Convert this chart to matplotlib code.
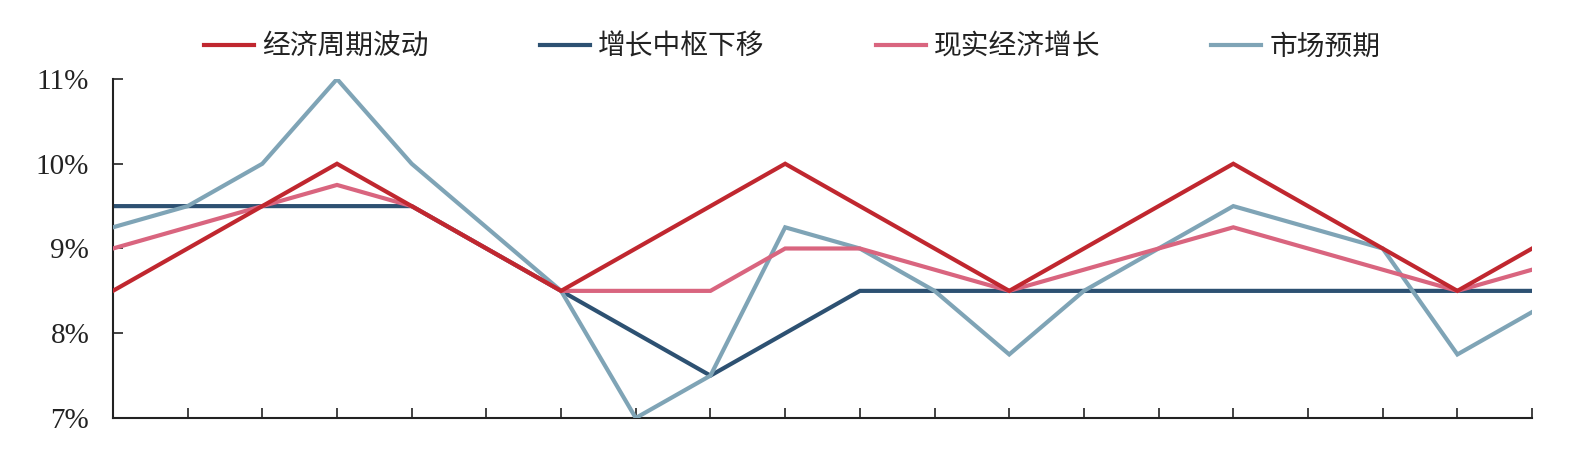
import matplotlib.pyplot as plt
from matplotlib.ticker import FuncFormatter

plt.rcParams["font.family"] = ["Noto Sans CJK SC", "DejaVu Sans"]

# data (percent), 20 evenly spaced periods
periods = list(range(20))
cycle = [8.5, 9.0, 9.5, 10.0, 9.5, 9.0, 8.5, 9.0, 9.5, 10.0,
         9.5, 9.0, 8.5, 9.0, 9.5, 10.0, 9.5, 9.0, 8.5, 9.0]
trend = [9.5, 9.5, 9.5, 9.5, 9.5, 9.0, 8.5, 8.0, 7.5, 8.0,
         8.5, 8.5, 8.5, 8.5, 8.5, 8.5, 8.5, 8.5, 8.5, 8.5]
actual = [9.0, 9.25, 9.5, 9.75, 9.5, 9.0, 8.5, 8.5, 8.5, 9.0,
          9.0, 8.75, 8.5, 8.75, 9.0, 9.25, 9.0, 8.75, 8.5, 8.75]
expect = [9.25, 9.5, 10.0, 11.0, 10.0, 9.25, 8.5, 7.0, 7.5, 9.25,
          9.0, 8.5, 7.75, 8.5, 9.0, 9.5, 9.25, 9.0, 7.75, 8.25]

labels = ["经济周期波动", "增长中枢下移", "现实经济增长", "市场预期"]
colors = ["#C0272F", "#2D5172", "#D9657F", "#7FA4B6"]
yticks = [7, 8, 9, 10, 11]

fig = plt.figure(figsize=(15.86, 4.54), dpi=100)
ax = fig.add_axes([0.0712, 0.0793, 0.8948, 0.7467])

# draw order: trend underneath, then the others
order = [1, 3, 2, 0]
series = [cycle, trend, actual, expect]
handles = {}
for i in order:
    (ln,) = ax.plot(periods, series[i], color=colors[i], lw=3.0,
                    solid_joinstyle="miter", label=labels[i], zorder=2 + order.index(i))
    handles[i] = ln

ax.set_xlim(0, 19)
ax.set_ylim(7, 11)
ax.set_xticks(periods)
ax.set_xticklabels([])
ax.set_yticks(yticks)
ax.yaxis.set_major_formatter(FuncFormatter(lambda v, _: f"{v:.0f}%"))
ax.tick_params(axis="both", direction="in", length=7, width=1.2, color="#222222")
ax.tick_params(axis="y", labelsize=21, pad=17)
for lab in ax.get_yticklabels():
    lab.set_family("Liberation Serif")
    lab.set_color("#222222")

for side in ("top", "right"):
    ax.spines[side].set_visible(False)
for side in ("left", "bottom"):
    ax.spines[side].set_linewidth(1.5)
    ax.spines[side].set_color("#222222")

fig.legend([handles[i] for i in range(4)], labels, loc="center",
           bbox_to_anchor=(0.4995, 0.897), ncol=4, frameon=False,
           fontsize=20, handlelength=1.8, handletextpad=0.3,
           columnspacing=4.0, labelcolor="#222222")

fig.savefig("out.png", dpi=100, facecolor="white")
